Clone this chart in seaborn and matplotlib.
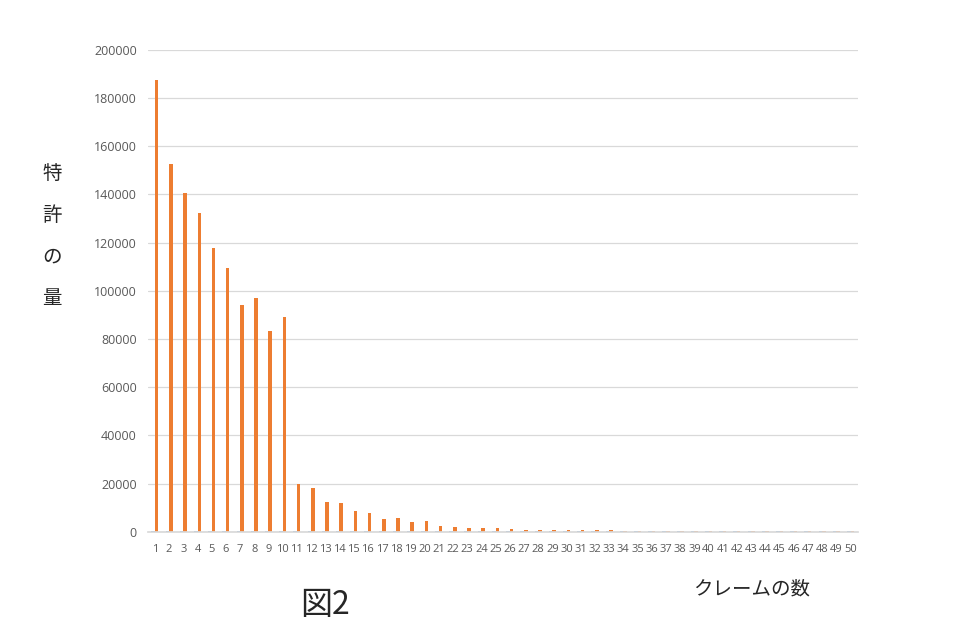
import numpy as np
import pandas as pd
import matplotlib
matplotlib.use("Agg")
import matplotlib.pyplot as plt
import seaborn as sns

# ── data ─────────────────────────────────────────────────
claims = list(range(1, 51))
patents = [187500, 152700, 140800, 132200, 118000, 109700, 94300, 97200, 83500, 89000,
           20000, 18400, 12400, 11800, 8700, 7900, 5400, 5700, 3900, 4600,
           2500, 2100, 1700, 1700, 1400, 1100, 900, 900, 800, 700,
           650, 600, 600, 550, 550, 500, 500, 480, 450, 450,
           420, 400, 400, 380, 380, 350, 350, 330, 320, 300]
minor = [300, 300, 300, 300, 300, 300, 300, 300, 300, 300,
         300, 300, 300, 300, 300, 300, 300, 300, 300, 300,
         300, 300, 300, 300, 300, 300, 300, 300, 300, 300,
         320, 320, 320, 320, 320, 320, 320, 320, 320, 320,
         320, 320, 320, 320, 320, 320, 320, 320, 320, 320]
yticks = [0, 20000, 40000, 60000, 80000, 100000, 120000, 140000, 160000, 180000, 200000]

df = pd.DataFrame({
    "claims": claims * 2,
    "count": minor + patents,
    "series": ["a"] * len(claims) + ["b"] * len(claims),
})

sns.set_theme(style="white")
plt.rcParams["font.family"] = ["Open Sans", "Noto Sans CJK JP", "DejaVu Sans"]

fig = plt.figure(figsize=(9.79, 6.4), dpi=100)
ax = fig.add_axes([0.151, 0.169, 0.725, 0.753])

sns.barplot(data=df, x="claims", y="count", hue="series",
            palette={"a": "#5b9bd5", "b": "#ed7d31"}, width=0.5,
            saturation=1, legend=False, linewidth=0, ax=ax)

ax.set_ylim(0, 200000)
ax.set_xlim(-0.5, len(claims) - 0.5)
ax.set_yticks(yticks)
ax.set_yticklabels([str(v) for v in yticks])
ax.yaxis.grid(True, color="#d9d9d9", lw=0.9)
ax.set_axisbelow(True)
for s in ["top", "right", "left"]:
    ax.spines[s].set_visible(False)
ax.spines["bottom"].set_color("#d9d9d9")
ax.tick_params(axis="both", length=0, colors="#595959")
ax.tick_params(axis="y", labelsize=9, pad=8)
ax.tick_params(axis="x", labelsize=8, pad=9)
ax.set_xlabel("")
ax.set_ylabel("")

# labels
fig.text(0.053, 0.631, "特\n許\nの\n量", fontsize=14, ha="center", va="center",
         linespacing=2.3, family=["Noto Sans CJK JP", "DejaVu Sans"])
fig.text(0.768, 0.080, "クレームの数", fontsize=14, ha="center", va="center",
         family=["Noto Sans CJK JP", "DejaVu Sans"])
fig.text(0.332, 0.055, "図2", fontsize=23, ha="center", va="center",
         family=["Noto Sans CJK JP", "DejaVu Sans"])

fig.savefig("out.png", dpi=100)
